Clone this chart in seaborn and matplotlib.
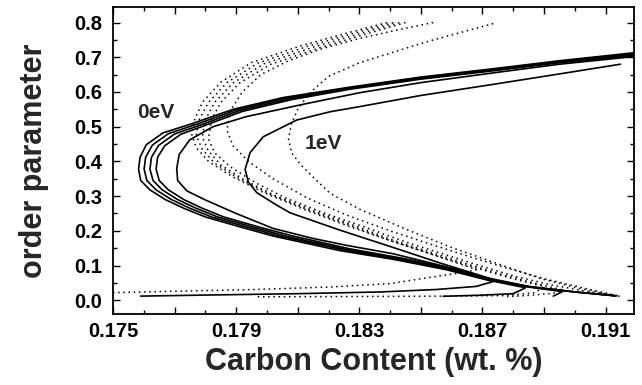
import matplotlib
matplotlib.use("Agg")
import matplotlib.pyplot as plt
from matplotlib.ticker import MultipleLocator
import seaborn as sns

# solid curves (0eV ... 1eV), traced along the path: top branch -> nose -> lower branch -> fold
s1_x = [0.1930, 0.19192, 0.1895, 0.18735, 0.1850, 0.1827, 0.18053, 0.1789, 0.17754, 0.17662, 0.17608, 0.17588, 0.17583,
        0.1759, 0.1762, 0.1767, 0.1773, 0.1780, 0.1791, 0.1802, 0.18237, 0.1841, 0.18583, 0.18735,
        0.1868, 0.1855, 0.1837, 0.1810, 0.1780, 0.1759]
s1_y = [0.722, 0.713, 0.690, 0.667, 0.643, 0.614, 0.584, 0.550, 0.508, 0.482, 0.448, 0.412, 0.378,
        0.345, 0.318, 0.290, 0.265, 0.240, 0.212, 0.185, 0.143, 0.118, 0.088, 0.054,
        0.040, 0.031, 0.024, 0.019, 0.015, 0.012]
s2_x = [0.1930, 0.19192, 0.1895, 0.18735, 0.1850, 0.1827, 0.1806, 0.1790, 0.17768, 0.1768, 0.17628, 0.17606, 0.17601,
        0.1761, 0.1764, 0.1769, 0.1775, 0.1782, 0.1793, 0.1804, 0.1825, 0.1842, 0.18592, 0.18740,
        0.1884, 0.1880, 0.1869, 0.18572]
s2_y = [0.719, 0.710, 0.688, 0.665, 0.641, 0.612, 0.582, 0.548, 0.506, 0.480, 0.447, 0.412, 0.378,
        0.345, 0.318, 0.290, 0.265, 0.240, 0.212, 0.185, 0.145, 0.119, 0.088, 0.054,
        0.036, 0.019, 0.0145, 0.0115]
s3_x = [0.1930, 0.19192, 0.1895, 0.18735, 0.1850, 0.1827, 0.1807, 0.1791, 0.17785, 0.1770, 0.17648, 0.17625, 0.1762,
        0.1763, 0.1766, 0.1771, 0.1777, 0.1784, 0.1795, 0.1806, 0.1826, 0.1843, 0.1860, 0.18745,
        0.1885, 0.1896, 0.1893]
s3_y = [0.715, 0.707, 0.686, 0.663, 0.639, 0.610, 0.580, 0.546, 0.505, 0.479, 0.446, 0.412, 0.378,
        0.345, 0.318, 0.290, 0.265, 0.240, 0.212, 0.185, 0.146, 0.120, 0.089, 0.055,
        0.038, 0.025, 0.012]
s4_x = [0.1930, 0.19192, 0.1895, 0.18735, 0.1850, 0.1827, 0.1808, 0.1792, 0.17800, 0.1772, 0.17668, 0.17645, 0.1764,
        0.1765, 0.1768, 0.1773, 0.1779, 0.1786, 0.1797, 0.1808, 0.1827, 0.1844, 0.1861, 0.1875,
        0.1886, 0.1900, 0.19135]
s4_y = [0.712, 0.704, 0.684, 0.661, 0.637, 0.608, 0.578, 0.544, 0.504, 0.478, 0.445, 0.412, 0.378,
        0.345, 0.318, 0.290, 0.265, 0.240, 0.212, 0.186, 0.148, 0.121, 0.090, 0.056,
        0.038, 0.024, 0.0125]
s5_x = [0.1930, 0.19192, 0.1895, 0.18735, 0.1850, 0.18302, 0.1812, 0.17933, 0.17825, 0.17749, 0.17715, 0.17707,
        0.1771, 0.1774, 0.1780, 0.1790, 0.1802, 0.1815, 0.1826, 0.1841, 0.1858, 0.18735, 0.1885, 0.1900, 0.1913]
s5_y = [0.709, 0.702, 0.680, 0.655, 0.627, 0.598, 0.565, 0.529, 0.500, 0.462, 0.420, 0.380,
        0.345, 0.315, 0.289, 0.250, 0.207, 0.178, 0.158, 0.134, 0.097, 0.058, 0.039, 0.024, 0.013]
s6_x = [0.19148, 0.1895, 0.18735, 0.1850, 0.18302, 0.18205, 0.18096, 0.17988, 0.17945, 0.17929,
        0.1794, 0.17967, 0.1803, 0.18075, 0.18237, 0.1840, 0.1856, 0.18724, 0.1885, 0.1900, 0.1913]
s6_y = [0.680, 0.652, 0.622, 0.590, 0.558, 0.543, 0.519, 0.471, 0.425, 0.377,
        0.340, 0.310, 0.275, 0.252, 0.202, 0.155, 0.108, 0.063, 0.040, 0.024, 0.013]

# dotted curves
d1_x = [0.1839, 0.1827, 0.1811, 0.1795, 0.1785, 0.1779, 0.17765, 0.17755, 0.1777, 0.1781, 0.1789, 0.1799, 0.1812,
        0.1826, 0.1838, 0.1850, 0.1861, 0.1868, 0.1862, 0.1850, 0.1840, 0.1820, 0.1796, 0.1770, 0.1745]
d1_y = [0.800, 0.772, 0.733, 0.685, 0.628, 0.570, 0.520, 0.480, 0.440, 0.400, 0.355, 0.310, 0.262,
        0.215, 0.178, 0.143, 0.110, 0.088, 0.078, 0.062, 0.048, 0.038, 0.031, 0.026, 0.021]
d2_x = [0.1841, 0.1829, 0.1813, 0.1797, 0.1787, 0.1781, 0.1778, 0.1777, 0.1779, 0.1783, 0.1791, 0.1801, 0.1814,
        0.1828, 0.1840, 0.1852, 0.1864, 0.1876, 0.1884, 0.1890, 0.1887, 0.1878, 0.1860, 0.1830, 0.1796]
d2_y = [0.800, 0.771, 0.731, 0.683, 0.627, 0.570, 0.520, 0.475, 0.435, 0.395, 0.350, 0.305, 0.258,
        0.212, 0.172, 0.137, 0.103, 0.072, 0.052, 0.040, 0.022, 0.0135, 0.012, 0.011, 0.010]
d3_x = [0.1843, 0.1831, 0.1815, 0.1799, 0.1789, 0.1783, 0.1780, 0.1779, 0.1781, 0.1785, 0.1793, 0.1803, 0.1816,
        0.1830, 0.1842, 0.1854, 0.1866, 0.1878, 0.1888, 0.1896, 0.1893, 0.1885, 0.1878]
d3_y = [0.800, 0.770, 0.729, 0.681, 0.626, 0.570, 0.520, 0.470, 0.430, 0.390, 0.345, 0.300, 0.255,
        0.210, 0.170, 0.136, 0.102, 0.070, 0.047, 0.030, 0.020, 0.014, 0.0105]
d4_x = [0.1845, 0.1833, 0.1817, 0.1801, 0.1791, 0.1785, 0.1782, 0.1781, 0.1783, 0.1788, 0.1796, 0.1806, 0.1819,
        0.1833, 0.1845, 0.1857, 0.1869, 0.1881, 0.1892, 0.1903, 0.1915]
d4_y = [0.800, 0.769, 0.727, 0.679, 0.625, 0.570, 0.520, 0.465, 0.425, 0.385, 0.340, 0.295, 0.250,
        0.207, 0.168, 0.134, 0.100, 0.068, 0.045, 0.027, 0.011]
d5_x = [0.1854, 0.1842, 0.1830, 0.1818, 0.1807, 0.1798, 0.1792, 0.1788, 0.1787, 0.1789, 0.1794, 0.1802, 0.1813,
        0.1826, 0.1840, 0.1853, 0.1866, 0.1879, 0.1891, 0.1903, 0.1915]
d5_y = [0.800, 0.778, 0.754, 0.725, 0.690, 0.650, 0.600, 0.545, 0.490, 0.445, 0.400, 0.350, 0.295,
        0.245, 0.200, 0.162, 0.125, 0.090, 0.060, 0.035, 0.011]
d6_x = [0.18735, 0.1852, 0.1830, 0.1820, 0.1814, 0.1810, 0.1808, 0.1807, 0.1808, 0.1811, 0.1815, 0.18205,
        0.18302, 0.1845, 0.1860, 0.1875, 0.1889, 0.1902, 0.1914]
d6_y = [0.797, 0.745, 0.684, 0.645, 0.598, 0.550, 0.510, 0.465, 0.425, 0.390, 0.355, 0.308,
        0.262, 0.205, 0.152, 0.105, 0.062, 0.033, 0.012]

solid_curves = [(s1_x, s1_y), (s2_x, s2_y), (s3_x, s3_y), (s4_x, s4_y), (s5_x, s5_y), (s6_x, s6_y)]
dotted_curves = [(d1_x, d1_y), (d2_x, d2_y), (d3_x, d3_y), (d4_x, d4_y), (d5_x, d5_y), (d6_x, d6_y)]

x_ticks = [0.175, 0.177, 0.179, 0.181, 0.183, 0.185, 0.187, 0.189, 0.191]
x_labels = ['0.175', '', '0.179', '', '0.183', '', '0.187', '', '0.191']
y_ticks = [0.0, 0.1, 0.2, 0.3, 0.4, 0.5, 0.6, 0.7, 0.8]
y_labels = ['0.0', '0.1', '0.2', '0.3', '0.4', '0.5', '0.6', '0.7', '0.8']

sns.set_theme(style='ticks')
plt.rcParams['font.family'] = ['Liberation Sans', 'DejaVu Sans']
plt.rcParams['font.weight'] = 'bold'

fig = plt.figure(figsize=(6.42, 3.85), dpi=100)
ax = fig.add_axes([0.176, 0.184, 0.8115, 0.798])

for xs, ys in solid_curves:
    sns.lineplot(x=xs, y=ys, sort=False, estimator=None, color='black', linewidth=1.2, ax=ax)
for xs, ys in dotted_curves:
    sns.lineplot(x=xs, y=ys, sort=False, estimator=None, color='black', linewidth=1.1,
                 linestyle=(0, (1, 2.4)), ax=ax)

ax.text(0.1764, 0.54, '0eV', fontsize=15, fontweight='bold', ha='center', va='center')
ax.text(0.18182, 0.453, '1eV', fontsize=15, fontweight='bold', ha='center', va='center')

ax.set_xlim(0.175, 0.19192)
ax.set_ylim(-0.04, 0.845)
ax.set_xticks(x_ticks, x_labels)
ax.set_yticks(y_ticks, y_labels)
ax.xaxis.set_minor_locator(MultipleLocator(0.001))
ax.yaxis.set_minor_locator(MultipleLocator(0.05))
ax.tick_params(which='both', direction='in', top=True, right=True, width=1.0, color='black',
               labelsize=14.5, labelcolor='black')
ax.tick_params(which='major', length=5)
ax.tick_params(which='minor', length=3)
ax.tick_params(axis='x', pad=6)
ax.tick_params(axis='y', pad=8)
for lab in ax.get_xticklabels() + ax.get_yticklabels():
    lab.set_fontweight('bold')
for sp in ax.spines.values():
    sp.set_linewidth(1.3)
    sp.set_color('black')

ax.set_xlabel('Carbon Content (wt. %)', fontsize=22, fontweight='bold', labelpad=4)
ax.set_ylabel('order parameter', fontsize=22, fontweight='bold', labelpad=18)

fig.savefig('out.png', dpi=100, facecolor='white')
